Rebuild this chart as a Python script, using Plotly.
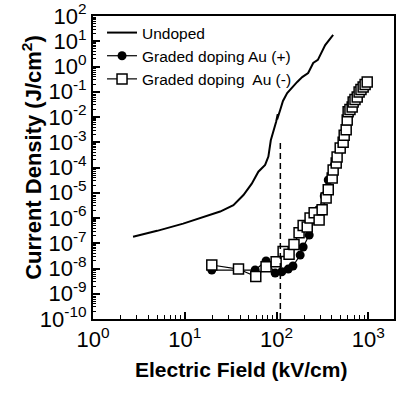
import plotly.graph_objects as go

# ---- data ----
undoped_E = [2.73, 5.0, 9.6, 14.7, 24.3, 33.9, 43.6, 53.7, 63.4, 75.1, 81.5, 86.6, 94.2,
             99, 103, 101.5, 109.6, 117.5, 130.6, 148, 168, 190.5, 221, 251, 282, 339, 414]
undoped_J = [1.8e-7, 3.1e-7, 6.0e-7, 9.8e-7, 1.8e-6, 3.2e-6, 8.1e-6, 2.3e-5, 6.8e-5,
             1.26e-4, 2.7e-4, 1.2e-3, 3.1e-3, 6.5e-3, 1.3e-2, 8.0e-3, 1.9e-2, 4.3e-2,
             8.9e-2, 0.155, 0.245, 0.38, 0.55, 1.38, 1.82, 7.1, 17.8]

au_pos_E = [19.7, 58.5, 76.9, 96.6, 114, 134, 151, 181, 195, 227, 284, 331, 366, 427,
            494, 562, 631, 759, 879, 955]
au_pos_J = [8.7e-9, 8.7e-9, 2.0e-8, 6.6e-9, 7.4e-9, 9.5e-9, 1.26e-8, 3.4e-8, 7.1e-8,
            2.1e-7, 2.1e-6, 7.4e-6, 3.2e-5, 1.26e-4, 4.9e-4, 3.1e-3, 1.6e-2, 6.2e-2,
            0.155, 0.22]

au_neg_E = [19.7, 38.5, 59.4, 76.9, 99, 118, 137, 155, 176, 195, 216, 232, 257, 291, 314,
            347, 366, 404, 414, 447, 457, 494, 532, 546, 574, 589, 603, 631, 667, 684,
            716, 757, 794, 832, 879, 923, 973]
au_neg_J = [1.38e-8, 9.5e-9, 4.8e-9, 1.17e-8, 1.86e-8, 4.7e-8, 3.7e-8, 8.9e-8, 2.6e-7,
            5.0e-7, 4.4e-7, 1.0e-6, 1.6e-6, 8.3e-7, 2.1e-6, 6.2e-6, 1.3e-5, 3.8e-5,
            7.9e-5, 1.5e-4, 2.6e-4, 5.9e-4, 1.0e-3, 1.9e-3, 3.1e-3, 7.6e-3, 1.6e-2,
            2.0e-2, 2.5e-2, 3.9e-2, 4.9e-2, 6.2e-2, 9.8e-2, 0.123, 0.155, 0.195, 0.245]

marker_E = [110, 110]
marker_J = [1e-10, 1.2e-3]

x_exponents = [0, 1, 2, 3]
y_exponents = list(range(-10, 3))

x_tickvals = [10.0 ** p for p in x_exponents]
x_ticktext = ["10<sup>%d</sup>" % p for p in x_exponents]
y_tickvals = [10.0 ** p for p in y_exponents]
y_ticktext = ["10<sup>%d</sup>" % p for p in y_exponents]

x_minor = [k * 10.0 ** p for p in range(0, 4) for k in range(2, 10)]
y_minor = [k * 10.0 ** p for p in range(-10, 2) for k in range(2, 10)]

x_title = "<b>Electric Field (kV/cm)</b>"
y_title = "<b>Current Density (J/cm<sup>2</sup>)</b>"

FONT = "Liberation Sans, Arial, sans-serif"

fig = go.Figure()
fig.add_trace(go.Scatter(x=undoped_E, y=undoped_J, mode="lines", name="Undoped",
                         line=dict(color="black", width=2)))
fig.add_trace(go.Scatter(x=au_pos_E, y=au_pos_J, mode="lines+markers",
                         name="Graded doping Au (+)",
                         line=dict(color="black", width=1.2),
                         marker=dict(symbol="circle", size=9, color="black")))
fig.add_trace(go.Scatter(x=au_neg_E, y=au_neg_J, mode="lines+markers",
                         name="Graded doping  Au (-)",
                         line=dict(color="black", width=1.2),
                         marker=dict(symbol="square", size=10, color="white",
                                     line=dict(color="black", width=1.5))))
fig.add_trace(go.Scatter(x=marker_E, y=marker_J, mode="lines", showlegend=False,
                         line=dict(color="black", width=1.5, dash="6px,4px")))

axis_common = dict(type="log", showgrid=False, zeroline=False, showline=True,
                   linecolor="black", linewidth=2, mirror=True, ticks="inside",
                   ticklen=7, tickwidth=1.5, tickcolor="black", automargin=False,
                   tickfont=dict(family=FONT, size=22, color="black"))

fig.update_xaxes(**axis_common, range=[0, 3.28], tickmode="array",
                 tickvals=x_tickvals, ticktext=x_ticktext,
                 minor=dict(tickmode="array", tickvals=x_minor, ticks="inside",
                            ticklen=4, tickwidth=1, tickcolor="black"))
fig.update_yaxes(**axis_common, range=[-10, 2], tickmode="array",
                 tickvals=y_tickvals, ticktext=y_ticktext,
                 minor=dict(tickmode="array", tickvals=y_minor, ticks="inside",
                            ticklen=3, tickwidth=1, tickcolor="black"))

fig.add_annotation(text=x_title, xref="paper", yref="paper", x=0.492, y=-0.168,
                   xanchor="center", yanchor="middle", showarrow=False,
                   font=dict(family=FONT, size=21, color="black"))
fig.add_annotation(text=y_title, xref="paper", yref="paper", x=-0.203, y=0.535,
                   xanchor="center", yanchor="middle", showarrow=False, textangle=-90,
                   font=dict(family=FONT, size=22, color="black"))

fig.update_layout(width=396, height=393, autosize=False,
                  margin=dict(l=93, r=2, t=16, b=74),
                  plot_bgcolor="white", paper_bgcolor="white",
                  font=dict(family=FONT, color="black"),
                  legend=dict(x=0.03, y=1.0, xanchor="left", yanchor="top",
                              bgcolor="rgba(0,0,0,0)", borderwidth=0,
                              font=dict(family=FONT, size=15.5, color="black"),
                              tracegroupgap=0))

fig.write_html("out.html", config={"displayModeBar": False},
               post_script="document.body.style.margin='0';document.body.style.overflow='hidden';")
